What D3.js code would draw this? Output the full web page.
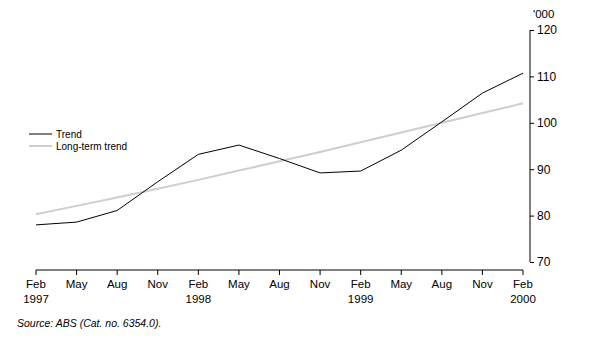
<!DOCTYPE html>
<html><head><meta charset="utf-8">
<script src="https://cdn.jsdelivr.net/npm/d3@7"></script>
<style>
body{margin:0;background:#fff;}
svg{display:block;font-family:"Liberation Sans",Arial,sans-serif;}
</style></head><body>
<svg id="c" width="593" height="341"></svg>
<script>
const months = ["Feb","May","Aug","Nov","Feb","May","Aug","Nov","Feb","May","Aug","Nov","Feb"];
const years = ["1997","","","","1998","","","","1999","","","","2000"];
const trend = [78.0,78.6,81.1,87.3,93.2,95.2,92.3,89.2,89.6,94.1,100.2,106.4,110.7];
const longTerm = [80.3,82.1,83.9,85.8,87.7,89.7,91.7,93.7,95.8,97.9,100.0,102.1,104.2];
const yTicks = [70,80,90,100,110,120];

const svg = d3.select("#c");
const x = d3.scaleLinear().domain([0, months.length-1]).range([36, 523]);
const y = d3.scaleLinear().domain([70,120]).range([262, 30]);

// x axis
const xg = svg.append("g").attr("transform","translate(0,270)");
xg.append("line").attr("x1",x(0)).attr("x2",x(12)).attr("y1",0).attr("y2",0).attr("stroke","#000").attr("stroke-width",1);
months.forEach((m,i)=>{
  xg.append("line").attr("x1",x(i)).attr("x2",x(i)).attr("y1",0).attr("y2",5).attr("stroke","#000");
  xg.append("text").attr("x",x(i)).attr("y",18).attr("text-anchor","middle").attr("font-size",11.5).text(m);
  if(years[i]) xg.append("text").attr("x",x(i)).attr("y",33).attr("text-anchor","middle").attr("font-size",11.5).text(years[i]);
});

// y axis (right)
const yAxis = d3.axisRight(y).tickValues(yTicks).tickSize(4).tickPadding(3);
const yg = svg.append("g").attr("transform","translate(530,0)").call(yAxis);
yg.select(".domain").attr("d",`M0,${y(70)}V${y(120)}`);
yg.selectAll("text").attr("font-size",12).attr("font-family","inherit").attr("fill","#000");
yg.selectAll("line").attr("stroke","#000");
svg.append("text").attr("x",533).attr("y",18).attr("font-size",11.5).text("'000");

// lines
const line = d3.line().x((d,i)=>x(i)).y(d=>y(d));
svg.append("path").datum(longTerm).attr("d",line).attr("fill","none").attr("stroke","#c9d0cd").attr("stroke-width",2);
svg.append("path").datum(trend).attr("d",line).attr("fill","none").attr("stroke","#000").attr("stroke-width",1);

// legend
const legend = [{name:"Trend",color:"#000",w:1},{name:"Long-term trend",color:"#c9d0cd",w:2}];
legend.forEach((l,i)=>{
  const ly = 134 + i*12;
  svg.append("line").attr("x1",29).attr("x2",52).attr("y1",ly).attr("y2",ly).attr("stroke",l.color).attr("stroke-width",l.w);
  svg.append("text").attr("x",56).attr("y",ly+3.5).attr("font-size",10).text(l.name);
});

// source
svg.append("text").attr("x",17).attr("y",327).attr("font-size",10.5).attr("font-style","italic").text("Source: ABS (Cat. no. 6354.0).");
</script>
</body></html>
